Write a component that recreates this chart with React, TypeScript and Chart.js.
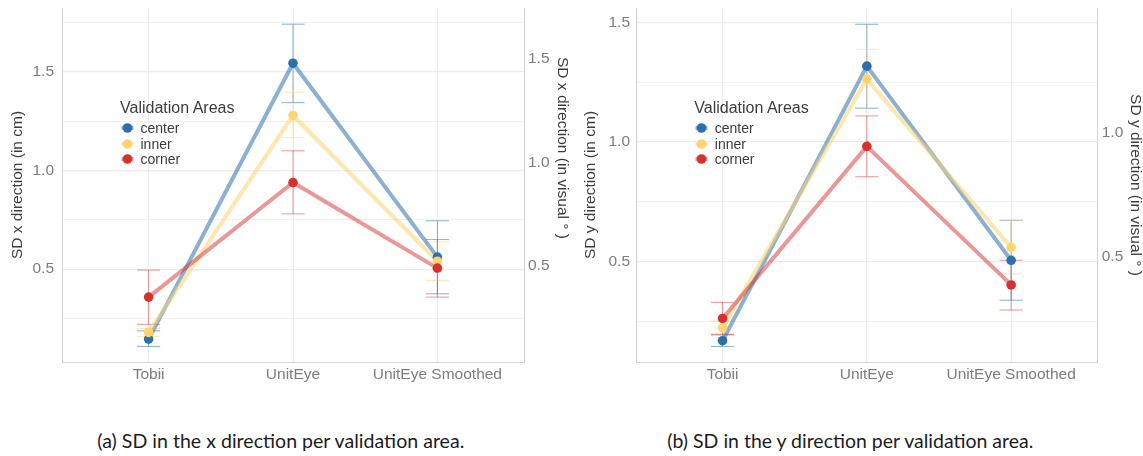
import React, { useEffect, useRef } from 'react';
import { Chart, registerables } from 'chart.js';

Chart.register(...registerables);

// ---------- data ----------
const CATEGORIES = ['Tobii', 'UnitEye', 'UnitEye Smoothed'];
const SERIES_NAMES = ['center', 'inner', 'corner'];
const POINT_COLORS = ['#2b6fad', '#fdd46e', '#d7302f'];
const LINE_COLORS = ['rgba(43,111,173,0.55)', 'rgba(253,212,110,0.55)', 'rgba(215,48,47,0.5)'];

// (a) SD in x direction (cm)
const SDX_CENTER = [0.145, 1.544, 0.561];
const SDX_CENTER_LO = [0.108, 1.344, 0.375];
const SDX_CENTER_HI = [0.187, 1.742, 0.745];
const SDX_INNER = [0.179, 1.279, 0.54];
const SDX_INNER_LO = [0.159, 1.167, 0.443];
const SDX_INNER_HI = [0.199, 1.397, 0.637];
const SDX_CORNER = [0.358, 0.939, 0.505];
const SDX_CORNER_LO = [0.22, 0.78, 0.358];
const SDX_CORNER_HI = [0.495, 1.1, 0.65];

// (b) SD in y direction (cm)
const SDY_CENTER = [0.17, 1.317, 0.506];
const SDY_CENTER_LO = [0.146, 1.141, 0.339];
const SDY_CENTER_HI = [0.194, 1.492, 0.673];
const SDY_INNER = [0.224, 1.263, 0.56];
const SDY_INNER_LO = [0.197, 1.143, 0.449];
const SDY_INNER_HI = [0.252, 1.387, 0.673];
const SDY_CORNER = [0.263, 0.982, 0.403];
const SDY_CORNER_LO = [0.197, 0.855, 0.298];
const SDY_CORNER_HI = [0.33, 1.109, 0.506];

const CM_TICKS = [0.25, 0.5, 0.75, 1.0, 1.25, 1.5, 1.75];
const DEG_TICKS = [0.5, 1.0, 1.5];

const FONT = "'Liberation Sans', Arial, Helvetica, sans-serif";
const TICK_COLOR = '#7d7d7d';
const TITLE_COLOR = '#3c3c3c';
const GRID_MAJOR = '#ebebeb';
const GRID_MINOR = '#f1f1f1';
const AXIS_LINE = '#d3d3d3';

type Cfg = {
  left: number;
  width: number;
  leftW: number;
  rightW: number;
  yMin: number;
  yMax: number;
  rMin: number;
  rMax: number;
  leftPad: number;
  rightPad: number;
  leftTitle: string;
  leftTitlePad: number;
  rightTitle: string | null;
  rightTitlePad: number;
  means: number[][];
  los: number[][];
  his: number[][];
};

const CFG_A: Cfg = {
  left: 0,
  width: 575,
  leftW: 62,
  rightW: 51,
  yMin: 0.029,
  yMax: 1.824,
  rMin: 0.036,
  rMax: 1.746,
  leftPad: 8,
  rightPad: 4,
  leftTitle: 'SD x direction (in cm)',
  leftTitlePad: 8.7,
  rightTitle: null,
  rightTitlePad: 3,
  means: [SDX_CENTER, SDX_INNER, SDX_CORNER],
  los: [SDX_CENTER_LO, SDX_INNER_LO, SDX_CORNER_LO],
  his: [SDX_CENTER_HI, SDX_INNER_HI, SDX_CORNER_HI],
};

const CFG_B: Cfg = {
  left: 575,
  width: 568,
  leftW: 61,
  rightW: 45.3,
  yMin: 0.081,
  yMax: 1.56,
  rMin: 0.079,
  rMax: 1.498,
  leftPad: 6,
  rightPad: 4,
  leftTitle: 'SD y direction (in cm)',
  leftTitlePad: 6.7,
  rightTitle: 'SD y direction (in visual ° )',
  rightTitlePad: -1.8,
  means: [SDY_CENTER, SDY_INNER, SDY_CORNER],
  los: [SDY_CENTER_LO, SDY_INNER_LO, SDY_CORNER_LO],
  his: [SDY_CENTER_HI, SDY_INNER_HI, SDY_CORNER_HI],
};

const isMajor = (v: number) => Math.abs(v * 2 - Math.round(v * 2)) < 1e-6;

const zeroPad = (s: any) => {
  s.paddingTop = 0;
  s.paddingBottom = 0;
  s.paddingLeft = 0;
  s.paddingRight = 0;
};

function SDChart({ cfg }: { cfg: Cfg }) {
  const ref = useRef<HTMLCanvasElement>(null);

  useEffect(() => {
    const errorBars = {
      id: 'errorBars',
      beforeDatasetsDraw(chart: any) {
        const ctx = chart.ctx;
        const xs = chart.scales.x;
        const ys = chart.scales.y;
        ctx.save();
        ctx.lineWidth = 1;
        cfg.means.forEach((_, s) => {
          ctx.strokeStyle = LINE_COLORS[s];
          CATEGORIES.forEach((_c, i) => {
            const x = xs.getPixelForValue(i);
            const half = xs.getPixelForValue(i + 0.08) - x;
            const y1 = ys.getPixelForValue(cfg.los[s][i]);
            const y2 = ys.getPixelForValue(cfg.his[s][i]);
            ctx.beginPath();
            ctx.moveTo(x, y1);
            ctx.lineTo(x, y2);
            ctx.moveTo(x - half, y1);
            ctx.lineTo(x + half, y1);
            ctx.moveTo(x - half, y2);
            ctx.lineTo(x + half, y2);
            ctx.stroke();
          });
        });
        ctx.restore();
      },
    };

    const lineSets = cfg.means.map((m, s) => ({
      type: 'line' as const,
      label: SERIES_NAMES[s] + ' line',
      data: m.map((v, i) => ({ x: i, y: v })),
      borderColor: LINE_COLORS[s],
      borderWidth: 4,
      borderJoinStyle: 'round' as const,
      pointRadius: 0,
      fill: false,
      tension: 0,
      order: 10 - s,
    }));
    const pointSets = cfg.means.map((m, s) => ({
      type: 'line' as const,
      label: SERIES_NAMES[s],
      data: m.map((v, i) => ({ x: i, y: v })),
      showLine: false,
      borderColor: POINT_COLORS[s],
      pointBackgroundColor: POINT_COLORS[s],
      pointBorderWidth: 0,
      pointRadius: 4.8,
      order: 3 - s,
    }));

    const tickFont = { family: FONT, size: 15.5 };
    const titleFont = { family: FONT, size: 15.5 };

    const chart = new Chart(ref.current as HTMLCanvasElement, {
      type: 'line',
      data: { datasets: [...lineSets, ...pointSets] as any },
      plugins: [errorBars],
      options: {
        animation: false,
        responsive: false,
        events: [],
        devicePixelRatio: 1,
        layout: { padding: { left: 0, right: 0, top: 8, bottom: 0 } },
        plugins: { legend: { display: false }, tooltip: { enabled: false } },
        scales: {
          x: {
            type: 'linear',
            min: -0.6,
            max: 2.6,
            afterBuildTicks: (s: any) => {
              s.ticks = CATEGORIES.map((_, i) => ({ value: i }));
            },
            afterFit: (s: any) => {
              s.height = 38;
              zeroPad(s);
            },
            ticks: {
              autoSkip: false,
              maxRotation: 0,
              minRotation: 0,
              padding: 3,
              font: tickFont,
              color: TICK_COLOR,
              callback: (v: any) => CATEGORIES[Math.round(v)] ?? '',
            },
            grid: { color: GRID_MAJOR, lineWidth: 1, drawTicks: false },
            border: { display: true, color: AXIS_LINE, width: 1 },
          },
          y: {
            type: 'linear',
            position: 'left',
            min: cfg.yMin,
            max: cfg.yMax,
            afterBuildTicks: (s: any) => {
              s.ticks = CM_TICKS.filter((v) => v >= cfg.yMin && v <= cfg.yMax).map((v) => ({ value: v }));
            },
            afterFit: (s: any) => {
              s.width = cfg.leftW;
              zeroPad(s);
            },
            ticks: {
              padding: cfg.leftPad,
              font: tickFont,
              color: TICK_COLOR,
              callback: (v: any) => (isMajor(v) ? Number(v).toFixed(1) : ''),
            },
            grid: {
              drawTicks: false,
              color: (c: any) => (c.tick && isMajor(c.tick.value) ? GRID_MAJOR : GRID_MINOR),
              lineWidth: (c: any) => (c.tick && isMajor(c.tick.value) ? 1.2 : 1),
            },
            border: { display: true, color: AXIS_LINE, width: 1 },
            title: {
              display: true,
              text: cfg.leftTitle,
              font: titleFont,
              color: TITLE_COLOR,
              padding: { top: cfg.leftTitlePad, bottom: 0 },
            },
          },
          y2: {
            type: 'linear',
            position: 'right',
            min: cfg.rMin,
            max: cfg.rMax,
            afterBuildTicks: (s: any) => {
              s.ticks = DEG_TICKS.filter((v) => v >= cfg.rMin && v <= cfg.rMax).map((v) => ({ value: v }));
            },
            afterFit: (s: any) => {
              s.width = cfg.rightW;
              zeroPad(s);
            },
            ticks: {
              padding: cfg.rightPad,
              font: tickFont,
              color: TICK_COLOR,
              callback: (v: any) => Number(v).toFixed(1),
            },
            grid: { drawOnChartArea: false, drawTicks: false },
            border: { display: true, color: AXIS_LINE, width: 1 },
            title: {
              display: cfg.rightTitle !== null,
              text: cfg.rightTitle ?? '',
              font: titleFont,
              color: TITLE_COLOR,
              padding: { top: cfg.rightTitlePad, bottom: 0 },
            },
          },
        },
      } as any,
    });
    return () => chart.destroy();
  }, [cfg]);

  return (
    <canvas
      ref={ref}
      width={cfg.width}
      height={400}
      style={{ position: 'absolute', left: cfg.left, top: 0, width: cfg.width, height: 400 }}
    />
  );
}

function Legend({ left }: { left: number }) {
  const rows = [128, 143.5, 159];
  return (
    <>
      <div
        style={{
          position: 'absolute',
          left,
          top: 99,
          height: 18,
          lineHeight: '18px',
          fontFamily: FONT,
          fontSize: 16,
          color: TITLE_COLOR,
          whiteSpace: 'nowrap',
        }}
      >
        Validation Areas
      </div>
      {SERIES_NAMES.map((name, s) => (
        <div
          key={name}
          style={{
            position: 'absolute',
            left,
            top: rows[s] - 8,
            height: 16,
            lineHeight: '16px',
            fontFamily: FONT,
            fontSize: 14,
            color: TITLE_COLOR,
            whiteSpace: 'nowrap',
          }}
        >
          <svg width={16} height={16} style={{ position: 'absolute', left: 0, top: 0 }}>
            <line x1={1.5} y1={8} x2={13.5} y2={8} stroke={LINE_COLORS[s]} strokeWidth={4} />
            <circle cx={7.5} cy={8} r={4.8} fill={POINT_COLORS[s]} />
          </svg>
          <span style={{ position: 'absolute', left: 20.5, top: 0 }}>{name}</span>
        </div>
      ))}
    </>
  );
}

export default function App() {
  return (
    <div
      style={{
        position: 'absolute',
        left: 0,
        top: 0,
        width: 1143,
        height: 456,
        background: '#ffffff',
        overflow: 'hidden',
      }}
    >
      <SDChart cfg={CFG_A} />
      <SDChart cfg={CFG_B} />
      <div
        style={{
          position: 'absolute',
          left: 554,
          top: 57,
          width: 18,
          lineHeight: '18px',
          writingMode: 'vertical-rl',
          fontFamily: FONT,
          fontSize: 15.5,
          color: TITLE_COLOR,
          whiteSpace: 'nowrap',
        }}
      >
        SD x direction (in visual ° )
      </div>
      <Legend left={120} />
      <Legend left={694.3} />
      <svg width={1143} height={36} style={{ position: 'absolute', left: 0, top: 420 }}>
        <text
          x={97.3}
          y={28.3}
          textLength={367}
          lengthAdjust="spacingAndGlyphs"
          fontFamily="'Liberation Sans Narrow', Lato, sans-serif"
          fontSize={20}
          fill="#1c1c1c"
        >
          (a) SD in the x direction per validation area.
        </text>
        <text
          x={667.3}
          y={28.3}
          textLength={366}
          lengthAdjust="spacingAndGlyphs"
          fontFamily="'Liberation Sans Narrow', Lato, sans-serif"
          fontSize={20}
          fill="#1c1c1c"
        >
          (b) SD in the y direction per validation area.
        </text>
      </svg>
    </div>
  );
}
